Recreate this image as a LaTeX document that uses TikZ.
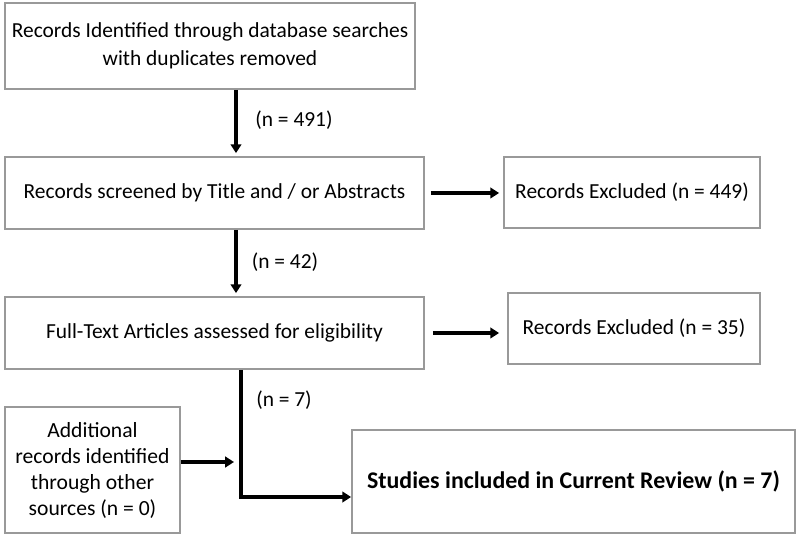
\documentclass[tikz,border=0pt]{standalone}
\usepackage{fontspec}
\setmainfont{Carlito}
\usetikzlibrary{arrows.meta,calc}
\begin{document}
\begin{tikzpicture}[x=0.02cm,y=-0.02cm]
  \tikzstyle{box}=[draw=black!40,line width=1pt,inner sep=0pt,align=center,font=\fontsize{12.2}{16}\selectfont]
  \tikzstyle{flow}=[line width=1.9pt,-{Triangle[length=5pt,width=6pt]}]
  \tikzstyle{lab}=[font=\fontsize{12.2}{15}\selectfont]
  \useasboundingbox (0,0) rectangle (800,536);
  \node[box,minimum width=410*0.02cm,minimum height=86*0.02cm] (ident) at (210,46)
    {Records Identified through database searches\\with duplicates removed};
  \node[box,minimum width=419*0.02cm,minimum height=72*0.02cm] (screen) at (214.5,193)
    {Records screened by Title and / or Abstracts};
  \node[box,minimum width=256*0.02cm,minimum height=71*0.02cm] (excl1) at (632,192.5)
    {Records Excluded (n = 449)};
  \node[box,minimum width=419*0.02cm,minimum height=72*0.02cm] (full) at (214.5,333)
    {Full-Text Articles assessed for eligibility};
  \node[box,minimum width=252*0.02cm,minimum height=71*0.02cm] (excl2) at (634,328.5)
    {Records Excluded (n = 35)};
  \node[box,minimum width=175*0.02cm,minimum height=126*0.02cm,font=\fontsize{12.3}{14.8}\selectfont] (extra) at (92.5,470)
    {Additional\\records identified\\through other\\sources (n = 0)};
  \node[box,minimum width=443*0.02cm,minimum height=103*0.02cm,font=\fontsize{13.6}{16}\selectfont\bfseries] (incl) at (573.5,481.5)
    {Studies included in Current Review (n = 7)};
  \coordinate (v1) at (236,0);
  \coordinate (join) at (241,497);
  \coordinate (side) at (234,462);
  \draw[flow] (ident.south -| v1) -- ($(screen.north -| v1)+(0,-3)$);
  \draw[flow] (screen.south -| v1) -- ($(full.north -| v1)+(0,-3)$);
  \draw[flow,shorten <=6*0.02cm,shorten >=4*0.02cm] (screen.east) -- (screen.east -| excl1.west);
  \draw[flow,shorten <=8*0.02cm,shorten >=8*0.02cm] (full.east) -- (full.east -| excl2.west);
  \draw[flow] (full.south -| join) -- (join) -- (join -| incl.west);
  \draw[flow] (extra.east |- side) -- (side);
  \node[lab] (n491) at (294,120) {(n = 491)};
  \node[lab] (n42) at (285,262) {(n = 42)};
  \node[lab] (n7) at (284,400) {(n = 7)};
\end{tikzpicture}
\end{document}
